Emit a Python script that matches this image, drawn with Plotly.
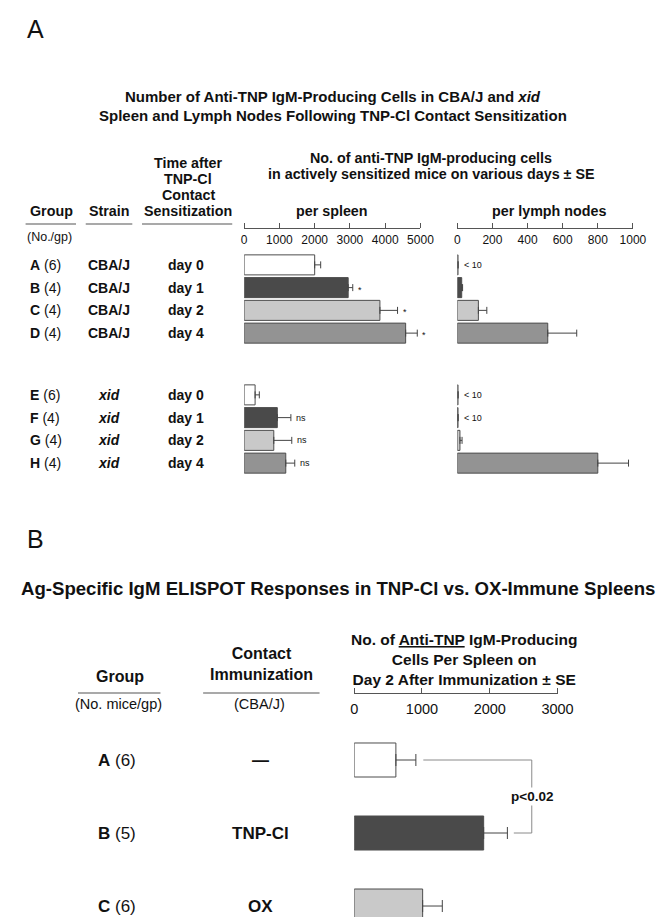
import plotly.graph_objects as go

W, H = 671, 917

def px(x):
    return x / W

def py(y):
    return 1 - y / H

# ---------------- data: panel A ----------------
groups_A = ["A", "B", "C", "D", "E", "F", "G", "H"]
n_A = [6, 4, 4, 4, 6, 4, 4, 4]
strain_A = ["CBA/J", "CBA/J", "CBA/J", "CBA/J", "xid", "xid", "xid", "xid"]
day_A = ["day 0", "day 1", "day 2", "day 4", "day 0", "day 1", "day 2", "day 4"]
spleen_mean = [2000, 2950, 3850, 4580, 310, 940, 840, 1180]
spleen_se = [170, 130, 500, 330, 120, 385, 510, 255]
spleen_sig = ["", "*", "*", "*", "", "ns", "ns", "ns"]
lymph_mean = [4, 25, 120, 515, 4, 4, 15, 800]
lymph_se = [None, 5, 48, 165, None, None, 12, 175]
lymph_note = ["< 10", "", "", "", "< 10", "< 10", "", ""]
spleen_ticks = [0, 1000, 2000, 3000, 4000, 5000]
lymph_ticks = [0, 200, 400, 600, 800, 1000]

# ---------------- data: panel B ----------------
groups_B = ["A", "B", "C"]
n_B = [6, 5, 6]
immun_B = ["\u2014", "TNP-Cl", "OX"]
b_mean = [615, 1910, 1010]
b_se = [295, 350, 290]
b_ticks = [0, 1000, 2000, 3000]
b_pvalue = "p<0.02"

fill_A = ["#ffffff", "#4a4a4a", "#c9c9c9", "#939393"]
fill_B = ["#ffffff", "#4a4a4a", "#c9c9c9"]
EDGE = "#4d4d4d"
TXT = "#111111"
FONT = "Liberation Sans, Arial, Helvetica, sans-serif"

fig = go.Figure()

def bar(xv, yv, se, colors, xa, ya, width, cap):
    return go.Bar(
        orientation="h", x=xv, y=yv, xaxis=xa, yaxis=ya, width=width,
        marker=dict(color=colors, line=dict(color=EDGE, width=1)),
        error_x=dict(type="data", symmetric=False, array=se,
                     arrayminus=[0] * len(xv), color="#444444",
                     thickness=1, width=cap),
        showlegend=False, hoverinfo="skip",
    )

fig.add_trace(bar(spleen_mean[:4], groups_A[:4], spleen_se[:4], fill_A, "x", "y", 0.88, 3.5))
fig.add_trace(bar(spleen_mean[4:], groups_A[4:], spleen_se[4:], fill_A, "x2", "y2", 0.88, 3.5))
fig.add_trace(bar(lymph_mean[:4], groups_A[:4], lymph_se[:4], fill_A, "x3", "y3", 0.88, 3.5))
fig.add_trace(bar(lymph_mean[4:], groups_A[4:], lymph_se[4:], fill_A, "x4", "y4", 0.88, 3.5))
fig.add_trace(bar(b_mean, groups_B, b_se, fill_B, "x5", "y5", 0.466, 6))

def top_axis(dom, rng, ticks, pos, fs, standoff):
    return dict(
        domain=dom, range=rng, anchor="free", position=pos, side="top",
        showline=True, linecolor="#555555", linewidth=1,
        ticks="outside", ticklen=5, tickwidth=1, tickcolor="#555555",
        tickvals=ticks, ticklabelposition="inside", ticklabeloverflow="allow",
        ticklabelstandoff=standoff,
        tickfont=dict(size=fs, color=TXT, family=FONT),
        showgrid=False, zeroline=False, fixedrange=True,
    )

def hidden_x(dom, rng, anchor):
    return dict(domain=dom, range=rng, anchor=anchor, visible=False,
                showgrid=False, zeroline=False, fixedrange=True)

def cat_y(dom, cats, rng, anchor):
    return dict(domain=dom, type="category", categoryorder="array",
                categoryarray=cats, range=rng, anchor=anchor, visible=False,
                showgrid=False, zeroline=False, fixedrange=True)

sp_dom = [px(239.3), px(421)]
ly_dom = [px(459), px(640)]
upper = [py(336.5), py(245.5)]
lower = [py(466.5), py(375.5)]

fig.update_layout(
    xaxis=top_axis(sp_dom, [0, 5000], spleen_ticks, py(220), 12, 6),
    yaxis=cat_y(upper, groups_A[:4], [3.5, -0.5], "x"),
    xaxis2=hidden_x(sp_dom, [0, 5000], "y2"),
    yaxis2=cat_y(lower, groups_A[4:], [3.5, -0.5], "x2"),
    xaxis3=top_axis(ly_dom, [0, 1000], lymph_ticks, py(220), 12, 6),
    yaxis3=cat_y(upper, groups_A[:4], [3.5, -0.5], "x3"),
    xaxis4=hidden_x(ly_dom, [0, 1000], "y4"),
    yaxis4=cat_y(lower, groups_A[4:], [3.5, -0.5], "x4"),
    xaxis5=top_axis([px(352.7), px(562.3)], [0, 3000], b_ticks, py(685), 14.5, 10),
    yaxis5=cat_y([0, py(715.5)], groups_B, [2.26, -0.5], "x5"),
)

ann = []

def txt(x, y, s, size=14, bold=True, xanchor="center", xref="paper", yref="paper", **kw):
    ann.append(dict(x=x, y=y, xref=xref, yref=yref, text=(f"<b>{s}</b>" if bold else s),
                    showarrow=False, xanchor=xanchor, yanchor="middle",
                    font=dict(size=size, color=TXT, family=FONT), **kw))

# Panel A headings
txt(px(13), py(21), "A", size=25, bold=False, xanchor="left")
txt(px(331), py(89), "Number of Anti-TNP IgM-Producing Cells in CBA/J and <i>xid</i>", size=15)
txt(px(331), py(107), "Spleen and Lymph Nodes Following TNP-Cl Contact Sensitization", size=15)
for yy, s in zip([155, 171, 187, 203], ["Time after", "TNP-Cl", "Contact", "Sensitization"]):
    txt(px(181.5), py(yy), s, size=14.3)
txt(px(40.5), py(203), "Group", size=14.3)
txt(px(100), py(203), "Strain", size=14.3)
txt(px(39), py(229), "(No./gp)", size=12.5, bold=False)
txt(px(431.5), py(150), "No. of anti-TNP IgM-producing cells", size=14.3)
txt(px(431.5), py(166), "in actively sensitized mice on various days \u00b1 SE", size=14.3)
txt(px(330), py(203), "per spleen", size=14.3)
txt(px(553), py(203), "per lymph nodes", size=14.3)

# Panel A rows
for i in range(8):
    ya = "y" if i < 4 else "y2"
    k = i % 4
    txt(px(17), k, f"<b>{groups_A[i]}</b> ({n_A[i]})", size=14, bold=False, xanchor="left", yref=ya)
    s = f"<i>{strain_A[i]}</i>" if strain_A[i] == "xid" else strain_A[i]
    txt(px(100), k, s, yref=ya)
    txt(px(179), k, day_A[i], yref=ya)
    if spleen_sig[i]:
        xa = "x" if i < 4 else "x2"
        ys = -2 if spleen_sig[i] == "*" else 0
        txt(spleen_mean[i] + spleen_se[i], k, spleen_sig[i], size=9, bold=False,
            xanchor="left", xref=xa, yref=ya, xshift=3, yshift=ys)
    if lymph_note[i]:
        xa = "x3" if i < 4 else "x4"
        ya2 = "y3" if i < 4 else "y4"
        txt(lymph_mean[i], k, lymph_note[i], size=9, bold=False,
            xanchor="left", xref=xa, yref=ya2, xshift=4)

# Panel B headings
txt(px(13), py(531), "B", size=25, bold=False, xanchor="left")
txt(px(336), py(580), "Ag-Specific IgM ELISPOT Responses in TNP-Cl vs. OX-Immune Spleens", size=18.6)
txt(px(466), py(651), "No. of <u>Anti-TNP</u> IgM-Producing<br>Cells Per Spleen on<br>"
    "Day 2 After Immunization \u00b1 SE", size=15.5)
txt(px(257), py(656), "Contact<br>Immunization", size=16)
txt(px(111), py(668), "Group", size=16)
txt(px(110), py(696), "(No. mice/gp)", size=14.5, bold=False)
txt(px(255), py(696), "(CBA/J)", size=14.5, bold=False)
for i in range(3):
    txt(px(108), i, f"<b>{groups_B[i]}</b> ({n_B[i]})", size=17, bold=False, yref="y5")
    txt(px(256), i, immun_B[i], size=17, yref="y5")

# significance bracket A vs B (panel B)
br_x = 2620
txt(br_x, 0.5, b_pvalue, size=13.5, xref="x5", yref="y5", bgcolor="#ffffff")

fig.update_layout(annotations=ann)

shapes = []
def hline(x0, x1, y):
    shapes.append(dict(type="line", xref="paper", yref="paper", x0=px(x0), x1=px(x1),
                       y0=py(y), y1=py(y), line=dict(color="#555555", width=1.2)))

hline(14, 66, 216)
hline(76, 124, 216)
hline(134, 227, 216)
hline(68, 153, 685)
hline(197, 317, 685)

shapes.append(dict(
    type="path", xref="x5", yref="y5",
    path=f"M {b_mean[0] + b_se[0] + 110},0 L {br_x},0 L {br_x},1 L {b_mean[1] + b_se[1] + 95},1",
    line=dict(color="#8a8a8a", width=1), layer="below"))

fig.update_layout(shapes=shapes)

fig.update_layout(
    width=W, height=H, margin=dict(l=0, r=0, t=0, b=0),
    paper_bgcolor="#ffffff", plot_bgcolor="rgba(0,0,0,0)",
    font=dict(family=FONT, color=TXT), showlegend=False,
)

fig.write_html("out.html")
